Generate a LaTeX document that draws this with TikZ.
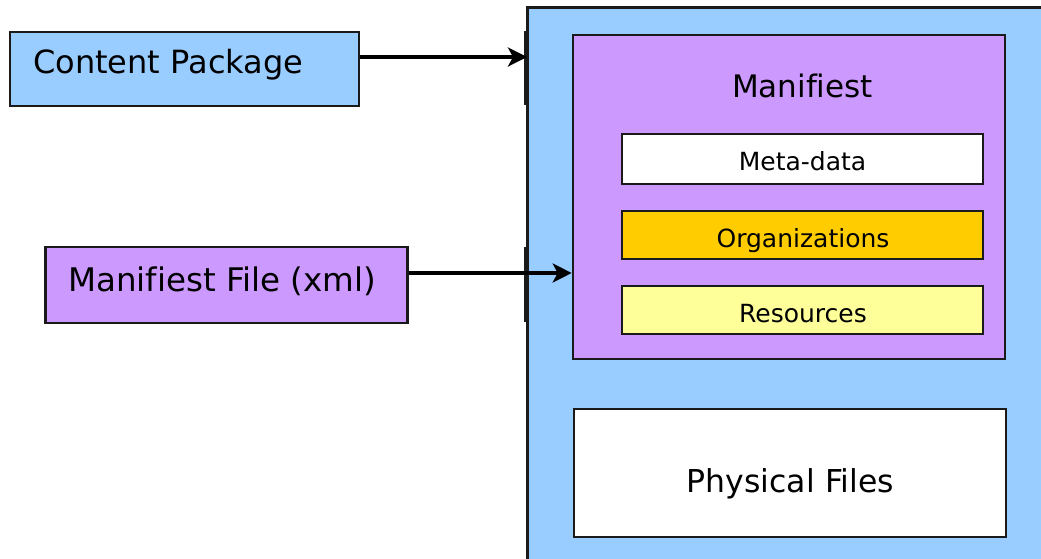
\documentclass[tikz,border=0pt]{standalone}
\usepackage{fontspec}
\setmainfont[Ligatures=NoCommon]{DejaVu Sans}
\usetikzlibrary{arrows.meta}
\definecolor{lblue}{HTML}{99CCFF}
\definecolor{lpurple}{HTML}{CC99FF}
\definecolor{lorange}{HTML}{FFCC00}
\definecolor{lyellow}{HTML}{FFFF99}
\definecolor{edge}{HTML}{1A1A1A}
\tikzset{
  boxnode/.style={draw=edge, line width=2.6pt, inner sep=0pt, rectangle},
  txt/.style={inner sep=0pt, text=black},
  arr/.style={line width=3.6pt, -{Stealth[length=19pt,width=19pt,inset=5pt]}},
}
\begin{document}
\begin{tikzpicture}[x=1pt,y=-1pt]
\useasboundingbox (0,0) rectangle (1041,558);
% container
\node[fill=lblue, inner sep=0pt, minimum width=520pt, minimum height=556pt, anchor=north west] (cont) at (527,7) {};
\draw[edge, line width=3pt] (cont.south west) -- (cont.north west) -- (cont.north east);
\coordinate (g1a) at (525,31); \coordinate (g1b) at (525,105);
\coordinate (g2a) at (525,247); \coordinate (g2b) at (525,322);
\draw[edge, line width=2pt] (g1a) -- (g1b);
\draw[edge, line width=2pt] (g2a) -- (g2b);
% left boxes
\node[boxnode, fill=lblue, minimum width=349pt, minimum height=74pt] (cp) at (184.5,69) {};
\node[txt, anchor=base west, font=\fontsize{32}{37}\selectfont] (cpt) at (33,73) {Content Package};
\node[boxnode, fill=lpurple, minimum width=362pt, minimum height=76pt] (mf) at (226.5,285) {};
\node[txt, anchor=base west, font=\fontsize{32.5}{38}\selectfont] (mft) at (68,291) {Manifiest File (xml)};
% manifest
\node[boxnode, fill=lpurple, minimum width=432pt, minimum height=324pt] (man) at (789,197) {};
\node[txt, anchor=base, font=\fontsize{31}{36}\selectfont] (mant) at (802.5,97) {Manifiest};
\node[boxnode, fill=white, minimum width=361pt, minimum height=50pt] (md) at (802.5,159) {};
\node[txt, anchor=base, font=\fontsize{25}{30}\selectfont] (mdt) at (802.5,170) {Meta-data};
\node[boxnode, fill=lorange, minimum width=361pt, minimum height=48pt] (org) at (802.5,235) {};
\node[txt, anchor=base, font=\fontsize{25}{30}\selectfont] (orgt) at (803,247) {Organizations};
\node[boxnode, fill=lyellow, minimum width=361pt, minimum height=48pt] (res) at (802.5,310) {};
\node[txt, anchor=base, font=\fontsize{25}{30}\selectfont] (rest) at (803,322) {Resources};
% physical files
\node[boxnode, fill=white, minimum width=432pt, minimum height=128pt] (pf) at (790,473) {};
\node[txt, anchor=base, font=\fontsize{31.5}{37}\selectfont] (pft) at (790.5,492) {Physical Files};
% arrows
\draw[arr] (cp.east |- 0,57) -- (cont.west |- 0,57);
\draw[arr] (mf.east |- 0,273) -- (man.west |- 0,273);
\end{tikzpicture}
\end{document}
